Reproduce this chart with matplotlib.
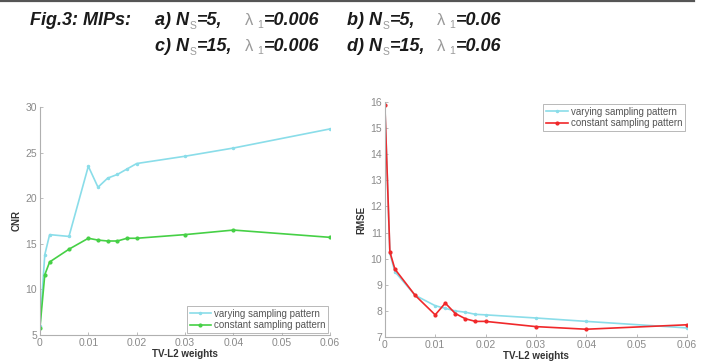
import matplotlib.pyplot as plt
from matplotlib.lines import Line2D

plt.rcParams['font.family'] = ['Liberation Sans', 'DejaVu Sans']

weights = [0, 0.001, 0.002, 0.006, 0.01, 0.012, 0.014, 0.016, 0.018, 0.02, 0.03, 0.04, 0.06]

cnr_varying = [6.0, 13.8, 16.0, 15.8, 23.5, 21.2, 22.2, 22.6, 23.2, 23.8, 24.6, 25.5, 27.6]
cnr_constant = [5.8, 11.6, 13.0, 14.4, 15.6, 15.4, 15.3, 15.3, 15.6, 15.6, 16.0, 16.5, 15.7]

rmse_varying = [15.9, 10.2, 9.5, 8.6, 8.2, 8.1, 8.0, 7.95, 7.87, 7.85, 7.73, 7.6, 7.35]
rmse_constant = [15.9, 10.26, 9.6, 8.6, 7.85, 8.3, 7.9, 7.7, 7.6, 7.6, 7.4, 7.3, 7.47]

x_ticks = [0, 0.01, 0.02, 0.03, 0.04, 0.05, 0.06]
x_ticklabels = ['0', '0.01', '0.02', '0.03', '0.04', '0.05', '0.06']
cnr_ticks = [5, 10, 15, 20, 25, 30]
rmse_ticks = [7, 8, 9, 10, 11, 12, 13, 14, 15, 16]

# caption pieces: (label, N_s value, lambda_1 value)
caption_rows = [[('a)', '5,', '0.006'), ('b)', '5,', '0.06')],
                [('c)', '15,', '0.006'), ('d)', '15,', '0.06')]]

c_cyan = '#8adde9'
c_green = '#46d046'
c_red = '#f0282a'
grey = '#8a8a8a'

fig = plt.figure(figsize=(7.01, 3.64), dpi=100)
W, H = 701.0, 364.0

# cut-off rule at the very top of the scan
fig.add_artist(Line2D([0.0, 0.99], [0.997, 0.997], color='#555555', lw=1.6,
                      transform=fig.transFigure))


def style_axes(ax, yticks, ylabel):
    ax.set_xlim(0, 0.06)
    ax.set_xticks(x_ticks)
    ax.set_xticklabels(x_ticklabels)
    ax.set_yticks(yticks)
    ax.set_ylim(yticks[0], yticks[-1])
    for s in ['top', 'right']:
        ax.spines[s].set_visible(False)
    for s in ['left', 'bottom']:
        ax.spines[s].set_color('#b0b0b0')
        ax.spines[s].set_linewidth(0.8)
    ax.tick_params(direction='in', length=2, width=0.6, colors='#b0b0b0',
                   labelcolor=grey, labelsize=7, pad=2)
    for lab in ax.get_xticklabels() + ax.get_yticklabels():
        lab.set_family(['Liberation Sans Narrow', 'Liberation Sans'])
        lab.set_fontsize(7.5)
    ax.set_xlabel('TV-L2 weights', fontsize=7, fontweight='bold', color='#333333', labelpad=1)
    ax.set_ylabel(ylabel, fontsize=7, fontweight='bold', color='#333333', labelpad=3)


def add_legend(ax, loc):
    leg = ax.legend(loc=loc, fontsize=7, frameon=True, fancybox=False,
                    borderpad=0.3, handlelength=2.2, handletextpad=0.3,
                    labelspacing=0.15, borderaxespad=0.2)
    leg.get_frame().set_edgecolor('#999999')
    leg.get_frame().set_linewidth(0.6)
    for t in leg.get_texts():
        t.set_color('#555555')


ax1 = fig.add_axes([0.057, 0.080, 0.414, 0.626])
ax1.plot(weights, cnr_varying, color=c_cyan, lw=1.2, marker='.', ms=3,
         label='varying sampling pattern')
ax1.plot(weights, cnr_constant, color=c_green, lw=1.2, marker='.', ms=4,
         label='constant sampling pattern')
style_axes(ax1, cnr_ticks, 'CNR')
add_legend(ax1, 'lower right')

ax2 = fig.add_axes([0.549, 0.074, 0.431, 0.646])
ax2.plot(weights, rmse_varying, color=c_cyan, lw=1.2, marker='.', ms=3,
         label='varying sampling pattern')
ax2.plot(weights, rmse_constant, color=c_red, lw=1.2, marker='.', ms=4,
         label='constant sampling pattern')
style_axes(ax2, rmse_ticks, 'RMSE')
add_legend(ax2, 'upper right')

# caption, laid out piece by piece
renderer = fig.canvas.get_renderer()
bold = dict(fontsize=13, fontweight='bold', fontstyle='italic', color='#1a1a1a')
light = dict(fontsize=12, color='#9a9a9a')
sub = dict(fontsize=7.5, color='#9a9a9a')


def put(x, y, s, **kw):
    """place text at pixel x (left) / baseline y; return right edge in pixels"""
    t = fig.text(x / W, 1 - y / H, s, va='baseline', ha='left', **kw)
    bb = t.get_window_extent(renderer)
    return bb.x1


put(30, 25, 'Fig.3: MIPs:', **bold)
for y, row in zip([25, 51], caption_rows):
    for x0, (lab, n, v) in zip([155, 347], row):
        x = put(x0, y, lab + ' N', **bold)
        x = put(x + 0.5, y + 4, 'S', **sub)
        put(x + 0.5, y, '=' + n, **bold)
        x = put(x0 + 90, y, 'λ', **light)
        x = put(x + 4, y + 3, '1', **sub)
        put(x + 0.5, y, '=' + v, **bold)

plt.savefig('out.png', dpi=100)
